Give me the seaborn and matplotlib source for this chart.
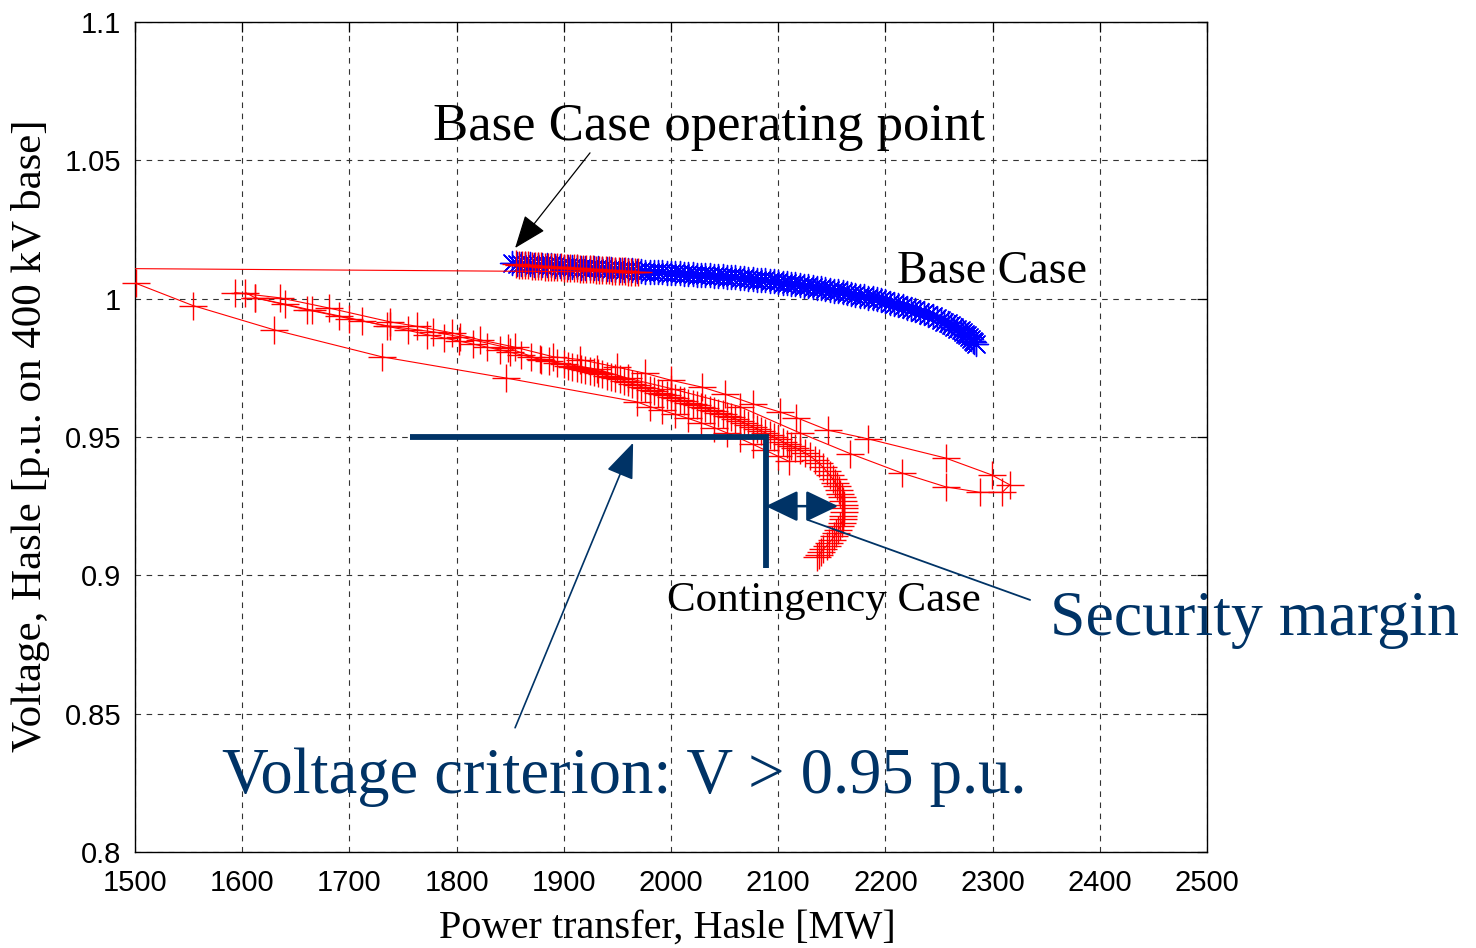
import numpy as np
import matplotlib
matplotlib.use("Agg")
import matplotlib.pyplot as plt
import seaborn as sns
from matplotlib.patches import FancyArrowPatch

# ---------------- data ----------------
# Base case PV curve (blue)
base_x = [1852, 1856, 1860, 1864, 1868, 1872, 1876, 1880, 1884, 1888, 1892, 1896, 1900,
          1904, 1908, 1912, 1916, 1920, 1924, 1928, 1932, 1936, 1940, 1944, 1948, 1952,
          1956, 1960, 1964, 1968, 1972, 1976, 1980, 1984, 1988, 1992, 1996, 2000, 2004,
          2008, 2012, 2016, 2020, 2024, 2028, 2032, 2036, 2040, 2044, 2048, 2052, 2056,
          2060, 2064, 2068, 2072, 2076, 2080, 2084, 2088, 2092, 2096, 2100, 2104, 2108,
          2112, 2116, 2120, 2124, 2128, 2132, 2136, 2140, 2144, 2148, 2152, 2156, 2160,
          2164, 2168, 2172, 2176, 2180, 2184, 2188, 2192, 2196, 2200, 2204, 2208, 2212,
          2216, 2220, 2224, 2228, 2232, 2236, 2240, 2244, 2248, 2252, 2255, 2258, 2261,
          2264, 2267, 2270, 2272, 2274, 2276, 2278, 2280, 2282, 2283, 2284]
base_v = [1.0128, 1.0127, 1.0126, 1.0125, 1.0125, 1.0123, 1.0122, 1.0121, 1.0120, 1.0120,
          1.0118, 1.0117, 1.0116, 1.0115, 1.0115, 1.0113, 1.0112, 1.0111, 1.0110, 1.0110,
          1.0109, 1.0108, 1.0107, 1.0106, 1.0105, 1.0104, 1.0103, 1.0102, 1.0102, 1.0100,
          1.0099, 1.0098, 1.0097, 1.0096, 1.0095, 1.0095, 1.0094, 1.0093, 1.0092, 1.0091,
          1.0090, 1.0089, 1.0088, 1.0087, 1.0086, 1.0085, 1.0084, 1.0083, 1.0082, 1.0081,
          1.0079, 1.0078, 1.0077, 1.0075, 1.0074, 1.0072, 1.0071, 1.0069, 1.0067, 1.0066,
          1.0064, 1.0062, 1.0060, 1.0058, 1.0056, 1.0054, 1.0052, 1.0050, 1.0047, 1.0045,
          1.0043, 1.0040, 1.0037, 1.0035, 1.0032, 1.0029, 1.0026, 1.0023, 1.0020, 1.0017,
          1.0014, 1.0011, 1.0008, 1.0004, 1.0001, 0.9997, 0.9994, 0.9990, 0.9986, 0.9982,
          0.9977, 0.9973, 0.9968, 0.9963, 0.9958, 0.9953, 0.9947, 0.9942, 0.9936, 0.9929,
          0.9923, 0.9917, 0.9911, 0.9905, 0.9899, 0.9892, 0.9886, 0.9879, 0.9873, 0.9867,
          0.9861, 0.9855, 0.9848, 0.9842, 0.9837]

# Contingency trajectory, part 1: tracking the base case, then the jump
pre_x = [1855, 1858, 1861, 1864, 1867, 1870, 1873, 1876, 1879, 1882, 1885, 1888, 1891,
         1894, 1897, 1900, 1903, 1906, 1909, 1912, 1915, 1918, 1921, 1924, 1927, 1930,
         1933, 1936, 1939, 1942, 1945, 1948, 1951, 1954, 1957, 1960, 1963, 1966, 1969,
         1480]
pre_v = [1.0124, 1.0123, 1.0122, 1.0121, 1.0120, 1.0119, 1.0118, 1.0118, 1.0117, 1.0116,
         1.0116, 1.0115, 1.0114, 1.0113, 1.0113, 1.0112, 1.0111, 1.0110, 1.0110, 1.0109,
         1.0108, 1.0108, 1.0107, 1.0106, 1.0106, 1.0105, 1.0104, 1.0104, 1.0103, 1.0102,
         1.0101, 1.0101, 1.0100, 1.0100, 1.0099, 1.0098, 1.0098, 1.0097, 1.0096,
         1.0109]

# Part 2: the low branch after the outage
drop_x = [1480, 1501, 1554, 1630, 1730, 1846, 1968, 1980, 1992, 2004, 2016, 2028, 2040,
          2052, 2064, 2076, 2088, 2100, 2110]
drop_v = [1.0109, 1.0055, 0.9975, 0.9887, 0.9790, 0.9713, 0.9627, 0.9610, 0.9596, 0.9582,
          0.9567, 0.9551, 0.9534, 0.9515, 0.9495, 0.9474, 0.9452, 0.9430, 0.9412]

# Part 3: excursion out to the far tip and back
loop_x = [1593, 1635, 1681, 1738, 1763, 1796, 1822, 1854, 1890, 1915, 1950, 1976, 2000,
          2029, 2050, 2076, 2102, 2117, 2146, 2184, 2256, 2299, 2316,
          2309, 2288, 2256, 2215, 2167, 2120, 2064, 2000, 1960, 1931, 1879, 1848, 1803,
          1778, 1738, 1700, 1660, 1612, 1603]
loop_v = [1.0022, 1.0003, 0.9966, 0.9916, 0.9900, 0.9876, 0.9851, 0.9825, 0.9790, 0.9780,
          0.9752, 0.9730, 0.9705, 0.9680, 0.9655, 0.9620, 0.9590, 0.9570, 0.9525, 0.9493,
          0.9424, 0.9363, 0.9327,
          0.9300, 0.9300, 0.9320, 0.9370, 0.9440, 0.9515, 0.9610, 0.9675, 0.9712, 0.9745,
          0.9778, 0.9822, 0.9862, 0.9880, 0.9900, 0.9928, 0.9960, 1.0003, 1.0022]

# Part 4: main contingency PV curve down to the nose
main_x = [1612, 1640, 1665, 1690, 1712, 1735, 1755, 1772, 1788, 1802, 1815, 1828, 1840,
          1850, 1860, 1869, 1878, 1886, 1894,
          1900, 1904, 1908, 1912, 1916, 1920, 1924, 1928, 1932, 1936, 1940, 1944, 1948,
          1952, 1956, 1960, 1964, 1968, 1972, 1976, 1980, 1984, 1988, 1992, 1996, 2000,
          2004, 2008, 2012, 2016, 2020, 2024, 2028, 2032, 2036, 2040, 2044, 2048, 2052,
          2056, 2060, 2064, 2068, 2072, 2076, 2080, 2084, 2088, 2092, 2096, 2100, 2104,
          2108, 2112, 2116, 2120,
          2125, 2130, 2134, 2138, 2142, 2145, 2148, 2151, 2153, 2155, 2157, 2158, 2159,
          2160, 2161, 2161, 2161, 2160, 2160, 2159, 2158, 2156, 2154, 2152, 2150, 2147,
          2145, 2142, 2140, 2138, 2136]
main_v = [1.0003, 0.9980, 0.9958, 0.9938, 0.9920, 0.9900, 0.9885, 0.9870, 0.9858, 0.9847,
          0.9836, 0.9825, 0.9815, 0.9806, 0.9797, 0.9789, 0.9781, 0.9774, 0.9767,
          0.9762, 0.9758, 0.9754, 0.9750, 0.9746, 0.9742, 0.9738, 0.9734, 0.9730, 0.9726,
          0.9722, 0.9718, 0.9714, 0.9710, 0.9704, 0.9699, 0.9693, 0.9688, 0.9682, 0.9676,
          0.9670, 0.9665, 0.9660, 0.9655, 0.9650, 0.9645, 0.9640, 0.9635, 0.9630, 0.9624,
          0.9619, 0.9614, 0.9609, 0.9604, 0.9598, 0.9593, 0.9588, 0.9583, 0.9577, 0.9571,
          0.9565, 0.9558, 0.9551, 0.9544, 0.9537, 0.9530, 0.9522, 0.9515, 0.9507, 0.9499,
          0.9491, 0.9483, 0.9474, 0.9468, 0.9461, 0.9453,
          0.9442, 0.9430, 0.9418, 0.9405, 0.9390, 0.9376, 0.9362, 0.9348, 0.9335, 0.9322,
          0.9308, 0.9295, 0.9282, 0.9268, 0.9255, 0.9242, 0.9229, 0.9216, 0.9203, 0.9190,
          0.9177, 0.9165, 0.9153, 0.9141, 0.9129, 0.9117, 0.9106, 0.9095, 0.9085, 0.9074,
          0.9066]

x_ticks = [1500, 1600, 1700, 1800, 1900, 2000, 2100, 2200, 2300, 2400, 2500]
y_ticks = [0.8, 0.85, 0.9, 0.95, 1.0, 1.05, 1.1]
y_tick_labels = ["0.8", "0.85", "0.9", "0.95", "1", "1.05", "1.1"]

v_limit = 0.95          # voltage criterion
margin_v = 0.925        # level of the security-margin arrow

# ---------------- style ----------------
sns.set_theme(style="white")
plt.rcParams["font.family"] = ["Liberation Sans", "DejaVu Sans"]
SERIF = ["Liberation Serif", "DejaVu Serif"]
NAVY = "#003366"

fig = plt.figure(figsize=(14.76, 9.48), dpi=100)
ax = fig.add_axes([0.0915, 0.1013, 0.7263, 0.8755])
ax.set_facecolor("white")

XLIM = (1500, 2500)
YLIM = (0.8, 1.1)


def pv_trace(xs, vs, color, marker, msize, lw_line=0.8, line=True, z=3):
    xs = np.asarray(xs, dtype=float)
    vs = np.asarray(vs, dtype=float)
    if line:
        sns.lineplot(x=xs, y=vs, sort=False, estimator=None, color=color,
                     linewidth=lw_line, ax=ax, zorder=z)
    inside = (xs >= XLIM[0]) & (xs <= XLIM[1])
    pts = sns.scatterplot(x=xs[inside], y=vs[inside], marker=marker, s=msize,
                          color=color, linewidth=1.0, ax=ax, zorder=z + 0.5)
    pts.collections[-1].set_clip_on(False)


# base case (blue asterisks)
pv_trace(base_x, base_v, "#0000ff", (8, 2, 0), 300, line=False, z=3)
# contingency case (red crosses)
pv_trace(pre_x, pre_v, "#ff0000", "+", 380, z=4)
pv_trace(drop_x, drop_v, "#ff0000", "+", 380, z=4)
pv_trace(loop_x, loop_v, "#ff0000", "+", 380, z=4)
pv_trace(main_x, main_v, "#ff0000", "+", 380, z=4)

ax.set_xlim(*XLIM)
ax.set_ylim(*YLIM)
ax.set_xticks(x_ticks)
ax.set_xticklabels([str(t) for t in x_ticks])
ax.set_yticks(y_ticks)
ax.set_yticklabels(y_tick_labels)
ax.tick_params(direction="in", length=7, width=0.9, top=True, right=True,
               labelsize=21, colors="black", pad=10)
ax.tick_params(axis="x", pad=12)
for s in ax.spines.values():
    s.set_visible(True)
    s.set_color("black")
    s.set_linewidth(1.0)
ax.grid(True, color="0.2", linestyle=(0, (5, 5)), linewidth=0.8, zorder=0)
ax.set_axisbelow(True)

ax.set_xlabel("Power transfer, Hasle [MW]", fontsize=29, family=SERIF, color="black")
ax.xaxis.set_label_coords(0.497, -0.069)
ax.set_ylabel("Voltage, Hasle [p.u. on 400 kV base]", fontsize=31, family=SERIF,
              color="black")
ax.yaxis.set_label_coords(-0.079, 0.502)

# ---------------- annotations ----------------
ax.text(1778, 1.0621, "Base Case operating point", fontsize=38, family=SERIF,
        ha="left", va="center", color="black", zorder=10)
ax.add_patch(FancyArrowPatch((1924.4, 1.0527), (1854.5, 1.0183),
                             arrowstyle="-|>,head_length=1.3,head_width=0.5",
                             mutation_scale=16, color="black", linewidth=0.9,
                             shrinkA=0, shrinkB=0, zorder=10))

ax.text(2210.8, 1.0096, "Base Case", fontsize=33, family=SERIF, ha="left",
        va="center", color="black", zorder=10)
ax.text(1996.3, 0.8907, "Contingency Case", fontsize=31, family=SERIF, ha="left",
        va="center", color="black", zorder=10)

# voltage criterion bracket and security margin
ax.plot([1756.5, 2088.3, 2088.3], [v_limit, v_limit, 0.9027], color=NAVY,
        linewidth=4.2, solid_joinstyle="miter", solid_capstyle="butt", zorder=8)
ax.add_patch(FancyArrowPatch((2088.3, margin_v), (2155.8, margin_v),
                             arrowstyle="<|-|>,head_length=1.25,head_width=0.6",
                             mutation_scale=16, color=NAVY, linewidth=1.8,
                             shrinkA=0, shrinkB=0, zorder=9))
ax.plot([2127.8, 2334.9], [0.9200, 0.8911], color=NAVY, linewidth=1.3, zorder=9,
        clip_on=False)
ax.text(2353.5, 0.8839, "Security margin", fontsize=46, family=SERIF, ha="left",
        va="center", color=NAVY, zorder=10)

ax.add_patch(FancyArrowPatch((1854.5, 0.8449), (1964.6, 0.9479),
                             arrowstyle="-|>,head_length=1.4,head_width=0.55",
                             mutation_scale=16, color=NAVY, linewidth=1.2,
                             shrinkA=0, shrinkB=0, zorder=9))
ax.text(1581.2, 0.8270, "Voltage criterion: V > 0.95 p.u.", fontsize=46.5,
        family=SERIF, ha="left", va="center", color=NAVY, zorder=10)

fig.savefig("out.png", dpi=100, facecolor="white")
